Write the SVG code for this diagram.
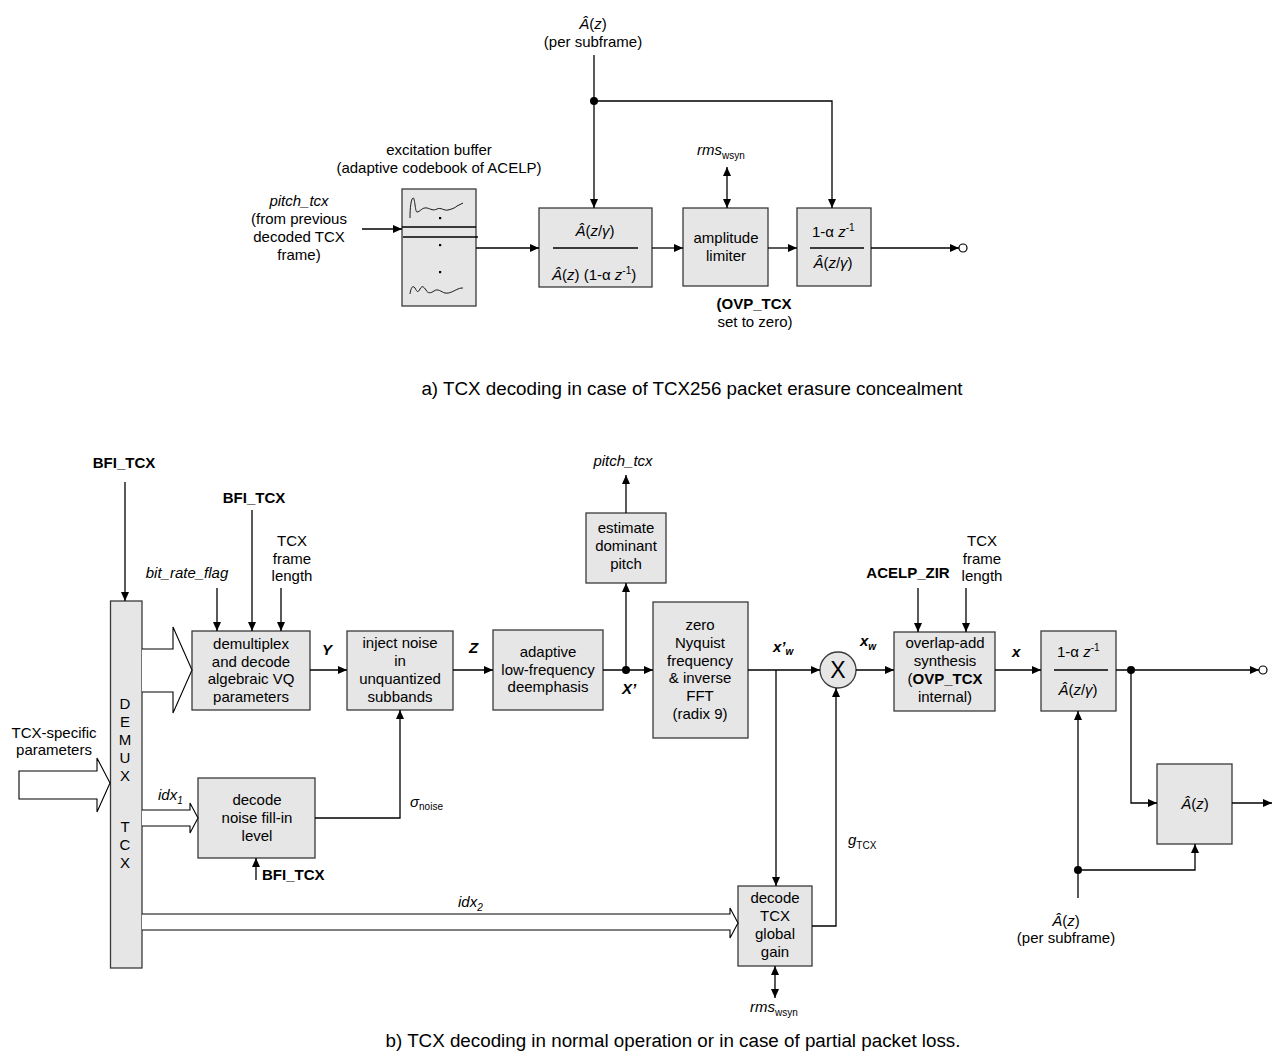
<svg xmlns="http://www.w3.org/2000/svg" width="1274" height="1052" viewBox="0 0 1274 1052">
<defs>
<style>
text{font-family:"Liberation Sans",Arial,sans-serif;font-size:15px;fill:#000}
.m{text-anchor:middle}
.b{font-weight:bold}
.i{font-style:italic}
.s{font-size:10px}
.cap{font-size:18.8px}
.box{fill:#e6e6e6;stroke:#3a3a3a;stroke-width:1.3}
.ln{fill:none;stroke:#000;stroke-width:1.3}
.arr{fill:none;stroke:#000;stroke-width:1.3;marker-end:url(#ah)}
.dbl{fill:none;stroke:#000;stroke-width:1.3;marker-start:url(#ah);marker-end:url(#ah)}
.hol{fill:#fff;stroke:#000;stroke-width:1.1}
.dot{fill:#000}
.oc{fill:#fff;stroke:#000;stroke-width:1.2}
</style>
<marker id="ah" markerUnits="userSpaceOnUse" markerWidth="10" markerHeight="8" refX="9" refY="4" orient="auto-start-reverse">
<path d="M0,0 L9,4 L0,8 z" fill="#000"/>
</marker>
</defs>
<rect width="1274" height="1052" fill="#fff"/>

<!-- ===== Part a ===== -->
<g id="label-a-Az">
<text x="593" y="29" class="m"><tspan class="i">Â</tspan>(<tspan class="i">z</tspan>)</text>
<text x="593" y="47" class="m">(per subframe)</text>
</g>
<g id="label-pitch">
<text x="299" y="206" class="m i">pitch_tcx</text>
<text x="299" y="224" class="m">(from previous</text>
<text x="299" y="242" class="m">decoded TCX</text>
<text x="299" y="260" class="m">frame)</text>
</g>
<g id="excitation-buffer">
<text x="439" y="155" class="m">excitation buffer</text>
<text x="439" y="173" class="m">(adaptive codebook of ACELP)</text>
<rect x="402" y="189" width="74" height="117" class="box"/>
<line x1="402" y1="227" x2="476" y2="227" class="ln"/>
<line x1="403" y1="237" x2="478" y2="237" class="ln"/>
<path d="M410,218 C410,208 411,199 413,198 C415,197 415,212 417,212 C420,212 422,207 427,208 C431,209 433,211 437,209 C441,207 444,211 448,210 C452,209 455,208 457,206 C459,205 461,204 463,203" fill="none" stroke="#000" stroke-width="0.9"/>
<path d="M410,294 C411,287 413,285 415,288 C417,292 418,293 420,289 C422,285 424,287 426,290 C428,294 431,293 434,291 C438,288 441,292 445,293 C450,294 455,290 458,289 C460,288 462,288 463,288" fill="none" stroke="#000" stroke-width="0.9"/>
<rect x="439" y="217" width="2.2" height="2.2" class="dot"/>
<rect x="439" y="244" width="2.2" height="2.2" class="dot"/>
<rect x="439" y="271" width="2.2" height="2.2" class="dot"/>
</g>
<g id="filter-weight">
<rect x="539" y="208" width="113" height="79" class="box"/>
<line x1="553" y1="248" x2="638" y2="248" class="ln"/>
<text x="595" y="236" class="m"><tspan class="i">Â</tspan>(<tspan class="i">z</tspan>/<tspan class="i">γ</tspan>)</text>
<text x="552" y="280"><tspan class="i">Â</tspan>(<tspan class="i">z</tspan>) (1-α <tspan class="i">z</tspan><tspan class="s" dy="-6">-1</tspan><tspan dy="6">)</tspan></text>
</g>
<g id="amplitude-limiter">
<rect x="683" y="208" width="85" height="78" class="box"/>
<text x="726" y="243" class="m">amplitude</text>
<text x="726" y="261" class="m">limiter</text>
<text x="754" y="309" class="m"><tspan class="b">(OVP_TCX</tspan></text>
<text x="755" y="327" class="m">set to zero)</text>
</g>
<g id="label-rms-top">
<text x="697" y="155" class="i">rms<tspan class="s" style="font-style:normal" dy="4">wsyn</tspan></text>
</g>
<g id="filter-deemph-a">
<rect x="797" y="208" width="74" height="78" class="box"/>
<line x1="810" y1="248" x2="864" y2="248" class="ln"/>
<text x="812" y="237">1-α <tspan class="i">z</tspan><tspan class="s" dy="-6">-1</tspan></text>
<text x="833" y="268" class="m"><tspan class="i">Â</tspan>(<tspan class="i">z</tspan>/<tspan class="i">γ</tspan>)</text>
</g>
<text x="692" y="395" class="m cap">a) TCX decoding in case of TCX256 packet erasure concealment</text>

<!-- ===== Part b ===== -->
<g id="demux">
<rect x="110.5" y="601" width="31.5" height="367" class="box"/>
<text x="125" y="709" class="m">D</text>
<text x="125" y="727" class="m">E</text>
<text x="125" y="745" class="m">M</text>
<text x="125" y="763" class="m">U</text>
<text x="125" y="781" class="m">X</text>
<text x="125" y="832" class="m">T</text>
<text x="125" y="850" class="m">C</text>
<text x="125" y="868" class="m">X</text>
</g>
<g id="label-bfi-demux"><text x="124" y="468" class="m b">BFI_TCX</text></g>
<g id="label-tcx-specific">
<text x="54" y="738" class="m">TCX-specific</text>
<text x="54" y="755" class="m">parameters</text>
</g>
<g id="demultiplex-vq">
<rect x="192" y="631" width="118" height="79" class="box"/>
<text x="251" y="649" class="m">demultiplex</text>
<text x="251" y="666.5" class="m">and decode</text>
<text x="251" y="684" class="m">algebraic VQ</text>
<text x="251" y="701.5" class="m">parameters</text>
</g>
<g id="labels-vq-inputs">
<text x="187" y="578" class="m i">bit_rate_flag</text>
<text x="254" y="503" class="m b">BFI_TCX</text>
<text x="292" y="546" class="m">TCX</text>
<text x="292" y="564" class="m">frame</text>
<text x="292" y="581" class="m">length</text>
</g>
<g id="inject-noise">
<rect x="347" y="631" width="106" height="79" class="box"/>
<text x="400" y="648" class="m">inject noise</text>
<text x="400" y="666" class="m">in</text>
<text x="400" y="684" class="m">unquantized</text>
<text x="400" y="702" class="m">subbands</text>
</g>
<g id="adaptive-deemphasis">
<rect x="493" y="630" width="110" height="80" class="box"/>
<text x="548" y="657" class="m">adaptive</text>
<text x="548" y="674.5" class="m">low-frequency</text>
<text x="548" y="692" class="m">deemphasis</text>
</g>
<g id="estimate-pitch">
<rect x="586" y="513" width="80" height="70" class="box"/>
<text x="626" y="533" class="m">estimate</text>
<text x="626" y="551" class="m">dominant</text>
<text x="626" y="569" class="m">pitch</text>
<text x="623" y="466" class="m i">pitch_tcx</text>
</g>
<g id="inverse-fft">
<rect x="653" y="602" width="95" height="136" class="box"/>
<text x="700" y="630" class="m">zero</text>
<text x="700" y="648" class="m">Nyquist</text>
<text x="700" y="665.5" class="m">frequency</text>
<text x="700" y="683" class="m">&amp; inverse</text>
<text x="700" y="701" class="m">FFT</text>
<text x="700" y="719" class="m">(radix 9)</text>
</g>
<g id="multiplier">
<circle cx="838" cy="670" r="18" class="box"/>
<text x="838" y="678" class="m" style="font-size:23px">X</text>
</g>
<g id="overlap-add">
<rect x="894" y="632" width="101" height="79" class="box"/>
<text x="945" y="648" class="m">overlap-add</text>
<text x="945" y="666" class="m">synthesis</text>
<text x="945" y="684" class="m">(<tspan class="b">OVP_TCX</tspan></text>
<text x="945" y="702" class="m">internal)</text>
<text x="908" y="578" class="m b">ACELP_ZIR</text>
<text x="982" y="546" class="m">TCX</text>
<text x="982" y="564" class="m">frame</text>
<text x="982" y="581" class="m">length</text>
</g>
<g id="filter-deemph-b">
<rect x="1041" y="631" width="75" height="80" class="box"/>
<line x1="1054" y1="670" x2="1108" y2="670" class="ln"/>
<text x="1057" y="657">1-α <tspan class="i">z</tspan><tspan class="s" dy="-6">-1</tspan></text>
<text x="1078" y="695" class="m"><tspan class="i">Â</tspan>(<tspan class="i">z</tspan>/<tspan class="i">γ</tspan>)</text>
</g>
<g id="synthesis-filter">
<rect x="1157" y="764" width="75" height="80" class="box"/>
<text x="1195" y="809" class="m"><tspan class="i">Â</tspan>(<tspan class="i">z</tspan>)</text>
</g>
<g id="label-b-Az">
<text x="1066" y="926" class="m"><tspan class="i">Â</tspan>(<tspan class="i">z</tspan>)</text>
<text x="1066" y="943" class="m">(per subframe)</text>
</g>
<g id="noise-level">
<rect x="198" y="778" width="117" height="80" class="box"/>
<text x="257" y="805" class="m">decode</text>
<text x="257" y="823" class="m">noise fill-in</text>
<text x="257" y="841" class="m">level</text>
<text x="262" y="880" class="b">BFI_TCX</text>
</g>
<g id="global-gain">
<rect x="738" y="886" width="74" height="80" class="box"/>
<text x="775" y="903" class="m">decode</text>
<text x="775" y="921" class="m">TCX</text>
<text x="775" y="939" class="m">global</text>
<text x="775" y="957" class="m">gain</text>
<text x="750" y="1012" class="i">rms<tspan class="s" style="font-style:normal" dy="4">wsyn</tspan></text>
</g>
<g id="signal-labels">
<text x="322" y="655" class="b i">Y</text>
<text x="469" y="653" class="b i">Z</text>
<text x="622" y="694" class="b i">X’</text>
<text x="773" y="652" class="b i">x’<tspan class="s" dy="3">w</tspan></text>
<text x="860" y="646" class="b i">x<tspan class="s" dy="4">w</tspan></text>
<text x="1012" y="657" class="b i">x</text>
<text x="158" y="800" class="i">idx<tspan class="s" dy="4">1</tspan></text>
<text x="458" y="907" class="i">idx<tspan class="s" dy="4">2</tspan></text>
<text x="410" y="807" class="i">σ<tspan class="s" style="font-style:normal" dy="3">noise</tspan></text>
<text x="848" y="845" class="i">g<tspan class="s" style="font-style:normal" dy="4">TCX</tspan></text>
</g>
<text x="673" y="1047" class="m cap">b) TCX decoding in normal operation or in case of partial packet loss.</text>

<!-- ===== Connectors ===== -->
<g id="connectors">
<line x1="594" y1="55" x2="594" y2="208" class="arr"/>
<circle cx="594" cy="101" r="4" class="dot"/>
<polyline points="594,101 832,101 832,208" class="arr"/>
<line x1="362" y1="229" x2="402" y2="229" class="arr"/>
<line x1="476" y1="248" x2="539" y2="248" class="arr"/>
<line x1="652" y1="248" x2="683" y2="248" class="arr"/>
<line x1="768" y1="248" x2="797" y2="248" class="arr"/>
<line x1="871" y1="248" x2="959" y2="248" class="arr"/>
<circle cx="963" cy="248" r="4" class="oc"/>
<line x1="727" y1="167" x2="727" y2="208" class="dbl"/>
<line x1="125" y1="482" x2="125" y2="601" class="arr"/>
<line x1="217" y1="588" x2="217" y2="631" class="arr"/>
<line x1="252" y1="510" x2="252" y2="631" class="arr"/>
<line x1="281" y1="588" x2="281" y2="631" class="arr"/>
<path d="M142,649 L173,649 L173,627 L192,670 L173,713 L173,692 L142,692" class="hol"/>
<path d="M19,771 L97,771 L97,758 L110,783 L97,812 L97,799 L19,799 Z" class="hol"/>
<path d="M142,810 L190,810 L190,803 L198,818 L190,833 L190,826 L142,826" class="hol"/>
<path d="M142,914 L730,914 L730,908 L738,923 L730,938 L730,930 L142,930" class="hol"/>
<line x1="310" y1="670" x2="347" y2="670" class="arr"/>
<line x1="453" y1="670" x2="493" y2="670" class="arr"/>
<line x1="603" y1="670" x2="653" y2="670" class="arr"/>
<circle cx="626" cy="670" r="4" class="dot"/>
<line x1="626" y1="670" x2="626" y2="583" class="arr"/>
<line x1="626" y1="513" x2="626" y2="475" class="arr"/>
<line x1="748" y1="670" x2="820" y2="670" class="arr"/>
<line x1="776" y1="670" x2="776" y2="886" class="arr"/>
<line x1="856" y1="670" x2="894" y2="670" class="arr"/>
<line x1="918" y1="588" x2="918" y2="632" class="arr"/>
<line x1="966" y1="588" x2="966" y2="632" class="arr"/>
<line x1="995" y1="670" x2="1041" y2="670" class="arr"/>
<line x1="1116" y1="670" x2="1259" y2="670" class="arr"/>
<circle cx="1131" cy="670" r="4" class="dot"/>
<circle cx="1263" cy="670" r="4" class="oc"/>
<polyline points="1131,670 1131,803 1157,803" class="arr"/>
<line x1="1232" y1="803" x2="1272" y2="803" class="arr"/>
<line x1="1078" y1="898" x2="1078" y2="711" class="arr"/>
<circle cx="1078" cy="870" r="4" class="dot"/>
<polyline points="1078,870 1195,870 1195,844" class="arr"/>
<line x1="256" y1="880" x2="256" y2="858" class="arr"/>
<polyline points="315,818 400,818 400,710" class="arr"/>
<polyline points="812,926 836,926 836,688" class="arr"/>
<line x1="775" y1="966" x2="775" y2="998" class="dbl"/>
</g>
</svg>
